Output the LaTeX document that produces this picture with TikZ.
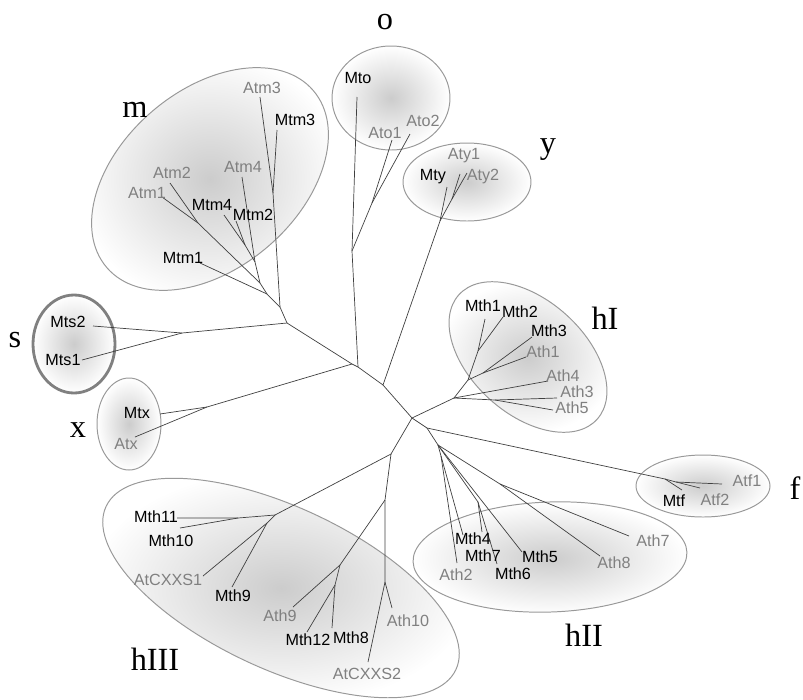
\documentclass[tikz,border=0pt]{standalone}
\usepackage{fontspec}
\setmainfont{Liberation Serif}
\newfontfamily\leaffont{Liberation Sans}
\usetikzlibrary{positioning}
\tikzset{branch/.style = {draw=black!75, line width=0.5pt}}
\tikzset{clade/.style = {draw=black!40, line width=0.7pt, inner color=black!20, outer color=white}}
\tikzset{mtleaf/.style = {font=\leaffont\fontsize{11.5}{13}\selectfont, text=black, inner sep=0}}
\tikzset{atleaf/.style = {mtleaf, text=black!50}}
\tikzset{grp/.style = {font=\fontsize{23}{26}\selectfont, inner sep=0}}

\begin{document}
\begin{tikzpicture}[x=0.025cm, y=-0.025cm]
      \useasboundingbox (0, 0) rectangle (803, 699);

      % groups
      \shadedraw [clade, rotate around={40.6:(210, 179)}] (210, 179) ellipse (136 and 89);
      \shadedraw [clade] (391, 98) ellipse (59 and 52);
      \shadedraw [clade] (467, 182) ellipse (64 and 39);
      \shadedraw [clade, draw=black!50, line width=2pt] (74, 344) ellipse (41 and 49);
      \shadedraw [clade] (129, 424) ellipse (32 and 46);
      \shadedraw [clade, rotate around={-42:(528, 357)}] (528, 357) ellipse (93 and 57);
      \shadedraw [clade, rotate around={2:(550, 557)}] (550, 557) ellipse (137 and 55);
      \shadedraw [clade] (703, 486) ellipse (67 and 31);
      \shadedraw [clade, rotate around={-25:(281, 588)}] (281, 588) ellipse (193 and 81);

      \node [grp] (lm) at (135, 110) {m};
      \node [grp] (lo) at (385, 22) {o};
      \node [grp] (ly) at (548, 150) {y};
      \node [grp] (ls) at (15, 340) {s};
      \node [grp] (lx) at (78, 430) {x};
      \node [grp] (lhI) at (605, 318) {hI};
      \node [grp] (lf) at (795, 488) {f};
      \node [grp] (lhII) at (584, 635) {hII};
      \node [grp] (lhIII) at (155, 659) {hIII};

      % inner nodes
      \coordinate (c0) at (412, 418);
      \coordinate (c1) at (383, 385);
      \coordinate (c2) at (358, 367);
      \coordinate (c3) at (352, 364);
      \coordinate (mroot) at (287, 323);
      \coordinate (y0) at (440, 221);
      \coordinate (y1) at (452, 199);
      \coordinate (o1) at (352, 251);
      \coordinate (o2) at (372, 203);
      \coordinate (x0) at (207, 407);
      \coordinate (s0) at (182, 333);
      \coordinate (mA) at (280, 307);
      \coordinate (m3) at (273, 193);
      \coordinate (mB) at (267, 294);
      \coordinate (mC) at (260, 283);
      \coordinate (mAt) at (198, 223);
      \coordinate (mD) at (255, 262);
      \coordinate (mE) at (245, 245);
      \coordinate (h1d) at (454, 398);
      \coordinate (h1a) at (468, 380);
      \coordinate (h1b) at (478, 351);
      \coordinate (h1c) at (483, 373);
      \coordinate (h1e) at (495, 400);
      \coordinate (fn) at (427, 428);
      \coordinate (f1) at (665, 479);
      \coordinate (f2) at (676, 482);
      \coordinate (h2) at (438, 445);
      \coordinate (h2a) at (441, 456);
      \coordinate (h2b) at (478, 502);
      \coordinate (h2c) at (500, 484);
      \coordinate (h3) at (391, 454);
      \coordinate (h3a) at (275, 515);
      \coordinate (h3b) at (267, 523);
      \coordinate (h3c) at (238, 518);
      \coordinate (h3d) at (385, 500);
      \coordinate (h3e) at (340, 565);
      \coordinate (h3f) at (335, 585);
      \coordinate (h3g) at (385, 582);

      % leaf ends
      \coordinate (e-mty) at (447, 187);
      \coordinate (e-aty1) at (460, 174);
      \coordinate (e-aty2) at (467, 173);
      \coordinate (e-mto) at (357, 97);
      \coordinate (e-ato1) at (392, 140);
      \coordinate (e-ato2) at (410, 134);
      \coordinate (e-mtx) at (160, 414);
      \coordinate (e-atx) at (135, 437);
      \coordinate (e-mts2) at (93, 326);
      \coordinate (e-mts1) at (82, 360);
      \coordinate (e-atm3) at (260, 97);
      \coordinate (e-mtm3) at (277, 130);
      \coordinate (e-mtm1) at (200, 263);
      \coordinate (e-atm1) at (162, 197);
      \coordinate (e-atm2) at (170, 183);
      \coordinate (e-atm4) at (242, 177);
      \coordinate (e-mtm4) at (224, 215);
      \coordinate (e-mtm2) at (236, 221);
      \coordinate (e-mth1) at (485, 319);
      \coordinate (e-mth2) at (503, 317);
      \coordinate (e-mth3) at (532, 337);
      \coordinate (e-ath1) at (526, 357);
      \coordinate (e-ath4) at (548, 381);
      \coordinate (e-ath3) at (557, 398);
      \coordinate (e-ath5) at (553, 410);
      \coordinate (e-mtf) at (682, 490);
      \coordinate (e-atf1) at (722, 484);
      \coordinate (e-atf2) at (700, 488);
      \coordinate (e-ath2) at (457, 563);
      \coordinate (e-mth4) at (463, 535);
      \coordinate (e-mth7) at (482, 532);
      \coordinate (e-mth6) at (497, 564);
      \coordinate (e-mth5) at (522, 552);
      \coordinate (e-ath8) at (600, 556);
      \coordinate (e-ath7) at (629, 536);
      \coordinate (e-mth11) at (177, 518);
      \coordinate (e-mth10) at (180, 528);
      \coordinate (e-atcxxs1) at (203, 576);
      \coordinate (e-mth9) at (232, 587);
      \coordinate (e-ath9) at (293, 607);
      \coordinate (e-mth12) at (307, 632);
      \coordinate (e-mth8) at (332, 628);
      \coordinate (e-atcxxs2) at (368, 662);
      \coordinate (e-ath10) at (392, 608);

      % branches
      \draw [branch] (c0) -- (c1) -- (c2) -- (c3) -- (mroot);
      \draw [branch] (c1) -- (y0) -- (e-mty);
      \draw [branch] (y0) -- (y1) -- (e-aty1);
      \draw [branch] (y1) -- (e-aty2);
      \draw [branch] (c2) -- (o1) -- (e-mto);
      \draw [branch] (o1) -- (o2) -- (e-ato1);
      \draw [branch] (o2) -- (e-ato2);
      \draw [branch] (c3) -- (x0) -- (e-mtx);
      \draw [branch] (x0) -- (e-atx);
      \draw [branch] (mroot) -- (s0) -- (e-mts2);
      \draw [branch] (s0) -- (e-mts1);
      \draw [branch] (mroot) -- (mA) -- (m3) -- (e-atm3);
      \draw [branch] (m3) -- (e-mtm3);
      \draw [branch] (mA) -- (mB) -- (e-mtm1);
      \draw [branch] (mB) -- (mC) -- (mAt) -- (e-atm1);
      \draw [branch] (mAt) -- (e-atm2);
      \draw [branch] (mC) -- (mD) -- (e-atm4);
      \draw [branch] (mD) -- (mE) -- (e-mtm4);
      \draw [branch] (mE) -- (e-mtm2);
      \draw [branch] (c0) -- (h1d) -- (h1a) -- (h1b) -- (e-mth1);
      \draw [branch] (h1b) -- (e-mth2);
      \draw [branch] (h1a) -- (h1c) -- (e-mth3);
      \draw [branch] (h1c) -- (e-ath1);
      \draw [branch] (h1d) -- (e-ath4);
      \draw [branch] (h1d) -- (h1e) -- (e-ath3);
      \draw [branch] (h1e) -- (e-ath5);
      \draw [branch] (c0) -- (fn) -- (f1) -- (e-mtf);
      \draw [branch] (f1) -- (f2) -- (e-atf1);
      \draw [branch] (f2) -- (e-atf2);
      \draw [branch] (fn) -- (h2) -- (h2a) -- (e-ath2);
      \draw [branch] (h2a) -- (e-mth4);
      \draw [branch] (h2) -- (h2b) -- (e-mth7);
      \draw [branch] (h2b) -- (e-mth6);
      \draw [branch] (h2) -- (e-mth5);
      \draw [branch] (h2) -- (h2c) -- (e-ath8);
      \draw [branch] (h2c) -- (e-ath7);
      \draw [branch] (c0) -- (h3) -- (h3a) -- (h3c) -- (e-mth11);
      \draw [branch] (h3c) -- (e-mth10);
      \draw [branch] (h3a) -- (h3b) -- (e-atcxxs1);
      \draw [branch] (h3b) -- (e-mth9);
      \draw [branch] (h3) -- (h3d) -- (h3e) -- (e-ath9);
      \draw [branch] (h3e) -- (h3f) -- (e-mth12);
      \draw [branch] (h3f) -- (e-mth8);
      \draw [branch] (h3d) -- (h3g) -- (e-atcxxs2);
      \draw [branch] (h3g) -- (e-ath10);

      % leaves
      \node [atleaf] (atm3) at (262, 88) {Atm3};
      \node [mtleaf] (mtm3) at (295, 120) {Mtm3};
      \node [atleaf] (atm2) at (172, 173) {Atm2};
      \node [atleaf] (atm1) at (147, 193) {Atm1};
      \node [atleaf] (atm4) at (243, 167) {Atm4};
      \node [mtleaf] (mtm4) at (212, 205) {Mtm4};
      \node [mtleaf] (mtm2) at (253, 215) {Mtm2};
      \node [mtleaf] (mtm1) at (183, 258) {Mtm1};
      \node [mtleaf] (mto) at (358, 78) {Mto};
      \node [atleaf] (ato1) at (385, 133) {Ato1};
      \node [atleaf] (ato2) at (423, 121) {Ato2};
      \node [atleaf] (aty1) at (464, 156) {Aty1};
      \node [mtleaf] (mty) at (433, 177) {Mty};
      \node [atleaf] (aty2) at (483, 177) {Aty2};
      \node [mtleaf] (mts2) at (68, 322) {Mts2};
      \node [mtleaf] (mts1) at (63, 360) {Mts1};
      \node [mtleaf] (mtx) at (137, 413) {Mtx};
      \node [atleaf] (atx) at (126, 444) {Atx};
      \node [mtleaf] (mth1) at (483, 306) {Mth1};
      \node [mtleaf] (mth2) at (520, 312) {Mth2};
      \node [mtleaf] (mth3) at (549, 331) {Mth3};
      \node [atleaf] (ath1) at (543, 352) {Ath1};
      \node [atleaf] (ath4) at (563, 376) {Ath4};
      \node [atleaf] (ath3) at (577, 392) {Ath3};
      \node [atleaf] (ath5) at (572, 408) {Ath5};
      \node [mtleaf] (mtf) at (674, 501) {Mtf};
      \node [atleaf] (atf2) at (715, 500) {Atf2};
      \node [atleaf] (atf1) at (747, 481) {Atf1};
      \node [mtleaf] (mth4) at (473, 539) {Mth4};
      \node [mtleaf] (mth7) at (483, 556) {Mth7};
      \node [mtleaf] (mth5) at (540, 557) {Mth5};
      \node [mtleaf] (mth6) at (513, 574) {Mth6};
      \node [atleaf] (ath2) at (456, 575) {Ath2};
      \node [atleaf] (ath8) at (614, 563) {Ath8};
      \node [atleaf] (ath7) at (653, 541) {Ath7};
      \node [mtleaf] (mth11) at (156, 517) {Mth11};
      \node [mtleaf] (mth10) at (171, 541) {Mth10};
      \node [atleaf] (atcxxs1) at (168, 580) {AtCXXS1};
      \node [mtleaf] (mth9) at (233, 596) {Mth9};
      \node [atleaf] (ath9) at (280, 616) {Ath9};
      \node [mtleaf] (mth12) at (308, 640) {Mth12};
      \node [mtleaf] (mth8) at (351, 638) {Mth8};
      \node [atleaf] (ath10) at (408, 621) {Ath10};
      \node [atleaf] (atcxxs2) at (367, 674) {AtCXXS2};
    \end{tikzpicture}
\end{document}
